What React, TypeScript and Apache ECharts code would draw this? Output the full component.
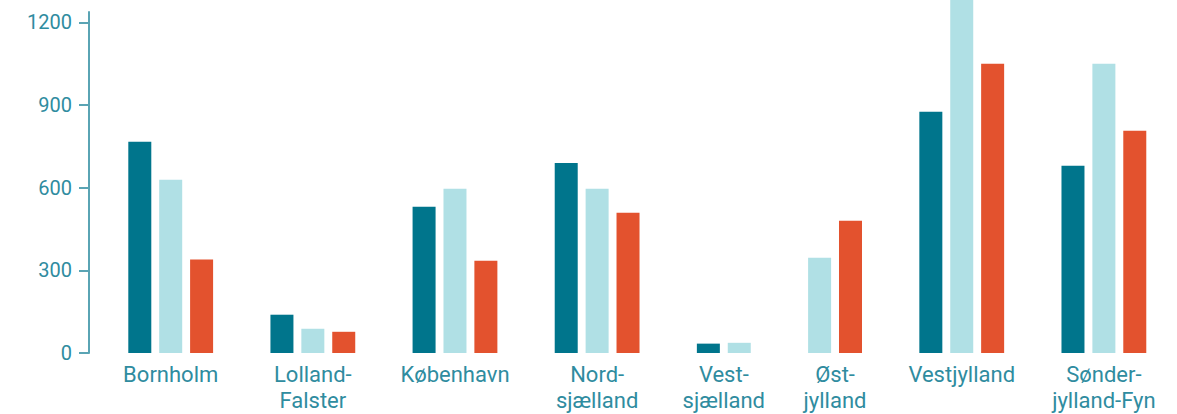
import React, { useEffect, useRef } from "react";
import * as echarts from "echarts";

const categories = [
  "Bornholm",
  "Lolland-\nFalster",
  "København",
  "Nord-\nsjælland",
  "Vest-\nsjælland",
  "Øst-\njylland",
  "Vestjylland",
  "Sønder-\njylland-Fyn",
];
const darkValues: (number | null)[] = [767, 139, 531, 690, 34, null, 876, 680];
const lightValues: (number | null)[] = [629, 88, 596, 596, 37, 346, 1300, 1050];
const orangeValues: (number | null)[] = [339, 77, 335, 509, null, 480, 1050, 807];
const yTicks = [0, 300, 600, 900, 1200];

const COLORS = ["#00758c", "#b0e0e5", "#e3522e"];
const TEXT = "#2f8c9f";
const AXIS = "#5aa4b4";
const FONT = "Roboto, 'Noto Sans', sans-serif";
const GROUP_GAP = 1.6; // extra slot units between groups
const PX_PER_SLOT = 30.9;

export default function App() {
  const ref = useRef<HTMLDivElement>(null);
  useEffect(() => {
    if (!ref.current) return;
    const chart = echarts.init(ref.current, undefined, { renderer: "svg" });
    const allSeries = [darkValues, lightValues, orangeValues];
    const seriesData: [number, number][][] = [[], [], []];
    const groupCenters: number[] = [];
    let pos = 0;
    categories.forEach((_, g) => {
      const present: number[] = [];
      allSeries.forEach((arr, s) => {
        if (arr[g] !== null) present.push(s);
      });
      const start = pos;
      present.forEach((s) => {
        seriesData[s].push([pos, allSeries[s][g] as number]);
        pos += 1;
      });
      groupCenters.push((start + pos - 1) / 2);
      pos += GROUP_GAP;
    });
    const lastCenter = pos - 1 - GROUP_GAP;
    const xMin = -1.644;
    const xMax = xMin + 1088 / PX_PER_SLOT;

    const nameFor = (v: number) => {
      let best = 0;
      let d = Infinity;
      groupCenters.forEach((c, i) => {
        if (Math.abs(c - v) < d) {
          d = Math.abs(c - v);
          best = i;
        }
      });
      return categories[best];
    };

    chart.setOption({
      animation: false,
      grid: { left: 89, right: 0, top: 12, bottom: 61, containLabel: false, outerBoundsMode: "none" },
      xAxis: {
        type: "value",
        min: xMin,
        max: Math.max(xMax, lastCenter + 1),
        axisLine: { show: false },
        axisTick: { show: false },
        splitLine: { show: false },
        axisLabel: {
          customValues: groupCenters,
          formatter: (v: number) => nameFor(v),
          color: TEXT,
          fontSize: 22,
          lineHeight: 26,
          fontFamily: FONT,
          margin: 8,
          showMinLabel: true,
          showMaxLabel: true,
        },
      },
      yAxis: {
        type: "value",
        min: 0,
        max: 1238,
        splitLine: { show: false },
        axisLine: { show: true, onZero: false, lineStyle: { color: AXIS, width: 2 } },
        axisTick: { show: true, length: 10, customValues: yTicks, lineStyle: { color: AXIS, width: 2 } },
        axisLabel: {
          customValues: yTicks,
          formatter: (v: number) => String(v),
          color: TEXT,
          fontSize: 20,
          fontFamily: FONT,
          margin: 17,
        },
      },
      series: seriesData.map((data, s) => ({
        type: "bar",
        data,
        barWidth: 23,
        barGap: "-100%",
        clip: false,
        itemStyle: { color: COLORS[s] },
      })),
    });
    return () => chart.dispose();
  }, []);
  return (
    <div
      ref={ref}
      style={{ position: "fixed", left: 0, top: 0, width: 1177, height: 414, background: "#fff" }}
    />
  );
}
